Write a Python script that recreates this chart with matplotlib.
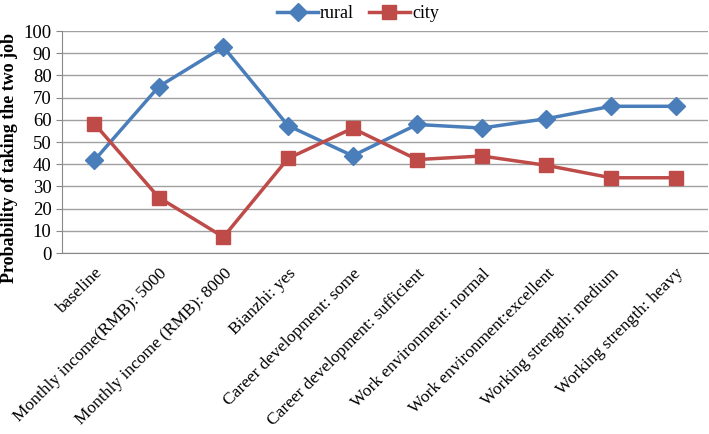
import numpy as np
import matplotlib.pyplot as plt

plt.rcParams['font.family'] = ['Liberation Serif', 'DejaVu Serif']

categories = ['baseline', 'Monthly income(RMB): 5000', 'Monthly income (RMB): 8000',
              'Bianzhi: yes', 'Career development: some', 'Career development: sufficient',
              'Work environment: normal', 'Work environment:excellent',
              'Working strength: medium', 'Working strength: heavy']
rural = [41.7, 75.0, 92.8, 57.4, 43.8, 57.9, 56.3, 60.5, 66.1, 66.1]
city = [58.3, 25.0, 7.2, 42.6, 56.2, 42.1, 43.7, 39.5, 33.9, 33.9]

fig = plt.figure(figsize=(7.09, 4.34), dpi=100)
ax = fig.add_axes([0.0874, 0.417, 0.911, 0.5115])

x = np.arange(len(categories))
ax.plot(x, rural, color='#4a7ebb', lw=2.5, marker='D', ms=9, label='rural')
ax.plot(x, city, color='#be4b48', lw=2.5, marker='s', ms=10, label='city')

ax.set_xlim(-0.5, len(categories) - 0.5)
ax.set_ylim(0, 100)
ax.set_yticks(range(0, 101, 10))
ax.grid(axis='y', color='#a0a0a0', lw=1)
ax.set_axisbelow(True)
for s in ['top', 'right']:
    ax.spines[s].set_visible(False)
ax.spines['left'].set_color('#888888')
ax.spines['bottom'].set_color('#888888')

ax.set_xticks(x)
ax.set_xticklabels(categories, rotation=45, ha='right', rotation_mode='anchor', fontsize=12.5)
ax.tick_params(axis='x', length=0, pad=9)
ax.tick_params(axis='y', length=4, color='#888888', labelsize=13.5)
ax.set_ylabel('Probability of taking the two job', fontsize=13, fontweight='bold')
ax.yaxis.set_label_coords(-0.068, 0.43)

ax.legend(loc='lower center', bbox_to_anchor=(0.458, 1.0), ncol=2, frameon=False,
          fontsize=13, handlelength=2.3, columnspacing=0.8, handletextpad=0.1,
          borderaxespad=0.1)

fig.savefig('out.png', dpi=100)
